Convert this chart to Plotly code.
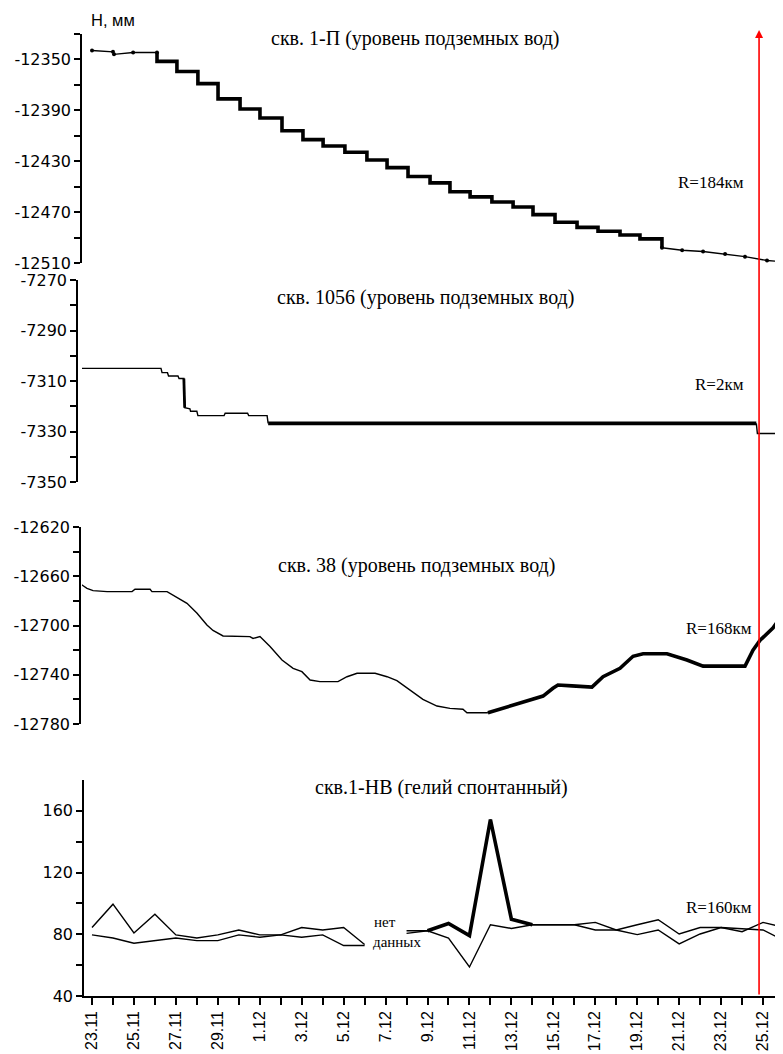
import plotly.graph_objects as go

# ---------------- data ----------------
# x in days since 23.11
tick_days = list(range(0, 34))
tick_labels = ["23.11", "", "25.11", "", "27.11", "", "29.11", "", "1.12", "", "3.12", "", "5.12", "",
               "7.12", "", "9.12", "", "11.12", "", "13.12", "", "15.12", "", "17.12", "", "19.12", "",
               "21.12", "", "23.12", "", "25.12", ""]

# Panel 1: скв. 1-П
p1_start_days = [0, 1, 1.05, 1.96, 3.1]
p1_start_vals = [-12343, -12344, -12346, -12344.5, -12344.5]
p1_step_days = [3.1, 3.1, 4.05, 5.05, 6.01, 7.06, 8.01, 9.06, 10.06, 11.02, 12.06, 13.11, 14.07, 15.07,
                16.12, 17.07, 18.03, 19.07, 20.08, 21.03, 22.08, 23.13, 24.13, 25.18, 26.13, 27.18]
p1_step_vals = [-12344.5, -12351.5, -12359.5, -12369, -12381, -12389, -12396, -12406, -12413, -12418,
                -12423, -12429, -12435, -12442, -12447, -12454, -12458, -12462, -12466, -12472,
                -12478, -12482, -12485, -12488, -12491, -12498]
p1_end_days = [27.18, 28.14, 29.14, 30.19, 31.14, 32.19, 32.95]
p1_end_vals = [-12498, -12500, -12501, -12503, -12505, -12508, -12509]

# Panel 2: скв. 1056
p2_days = [-0.7, 3.29, 3.34, 3.6, 3.65, 4.1, 4.15, 4.38, 4.42, 4.67, 4.7, 5.0, 5.05, 6.3, 6.35,
           7.42, 7.47, 8.35, 8.4]
p2_vals = [-7305, -7305, -7306.7, -7306.7, -7308, -7308, -7309, -7309, -7320.6, -7321, -7322, -7322,
           -7323.7, -7323.7, -7322.8, -7322.8, -7323.7, -7323.7, -7326.8]
p2_drop_days = [4.38, 4.42]
p2_drop_vals = [-7309, -7320.6]
p2_thick_days = [8.4, 31.68]
p2_thick_vals = [-7326.8, -7326.8]
p2_end_days = [31.68, 31.73, 32.77, 32.9, 32.95]
p2_end_vals = [-7326.8, -7330.8, -7330.8, -7336.6, -7338]

# Panel 3: скв. 38
p3_days = [-0.55, -0.24, 0.05, 0.72, 1.91, 2.05, 2.77, 2.86, 3.58, 4.05, 4.53, 5.01, 5.48, 5.77, 6.25,
           7.53, 7.68, 8.01, 8.49, 9.06, 9.59, 10.01, 10.4, 10.87, 11.73, 12.16, 12.64, 13.5, 14.07,
           14.54, 15.16, 15.78, 16.45, 17.07, 17.69, 17.88, 18.88]
p3_vals = [-12666.3, -12669.8, -12671.7, -12672.5, -12672.5, -12670.6, -12670.6, -12672.5, -12672.5,
           -12677, -12682, -12690, -12699.6, -12704, -12708.5, -12709, -12710.5, -12709, -12717,
           -12728, -12734.8, -12737.5, -12744.3, -12745.6, -12745.6, -12741.6, -12738.8, -12738.8,
           -12741.6, -12744.8, -12752.4, -12760, -12765.4, -12767.3, -12768, -12770.9, -12770.9]
p3_thick_days = [18.88, 19.6, 20.27, 21.03, 21.51, 21.98, 22.22, 22.89, 23.84, 24.37, 25.18, 25.8,
                 26.28, 27.42, 28.37, 29.14, 31.14, 31.52, 31.86, 32.47, 32.95]
p3_thick_vals = [-12770.9, -12767.3, -12763.8, -12760, -12757.3, -12751, -12748.3, -12749, -12750,
                 -12741.6, -12734.8, -12725, -12723, -12723, -12728, -12733, -12733, -12720, -12712,
                 -12702, -12691]

# Panel 4: скв.1-НВ (гелий)
he_days_1 = list(range(0, 14))
he_a_1 = [84.4, 99.5, 80.9, 93.0, 79.6, 77.6, 79.6, 82.8, 79.6, 79.6, 84.4, 82.8, 84.4, 73.4]
he_b_1 = [79.6, 77.6, 74.2, 75.9, 77.6, 75.9, 75.9, 79.6, 78.1, 79.6, 78.1, 79.6, 72.7, 72.7]
he_days_2 = list(range(15, 34))
he_a_2 = [82.3, 82.3, 87.0, 79.1, 154.4, 89.8, 86.2, 86.2, 86.2, 87.7, 82.8, 79.8, 82.8, 73.8, 80.2,
          84.4, 83.4, 82.8, 76.0]
he_b_2 = [80.6, 82.3, 77.6, 58.8, 86.2, 83.8, 86.2, 86.2, 86.2, 82.8, 82.8, 86.2, 89.4, 80.2, 84.4,
          84.4, 81.7, 87.7, 84.4]
he_thick_days = [16, 17, 18, 19, 20, 21]
he_thick_vals = [82.3, 87.0, 79.1, 154.4, 89.8, 86.2]

event_day = 31.81

# ---------------- figure ----------------
OFF = 8            # page body margin in the browser
W, H = 783 - OFF, 1054 - OFF
AXIS_Y = 996       # reference pixel row of bottom x axis
MB = 1054 - AXIS_Y
PH = H - MB        # plot-area height in figure px


def px_x(ref_x):
    return (ref_x - OFF) / W


def py(ref_y):
    return (AXIS_Y - ref_y) / PH


THIN = 1.4
THICK = 3.6
fig = go.Figure()


def add(x, y, ax, w, shape="linear", markers=False):
    fig.add_trace(go.Scatter(
        x=x, y=y, xaxis="x", yaxis=ax, mode="lines+markers" if markers else "lines",
        line=dict(color="black", width=w, shape=shape),
        marker=dict(size=4, color="black"), showlegend=False, hoverinfo="skip", cliponaxis=True))


add(p1_start_days, p1_start_vals, "y", THIN, markers=True)
add(p1_step_days, p1_step_vals, "y", THICK, shape="hv")
add(p1_end_days, p1_end_vals, "y", THIN, markers=True)

add(p2_days, p2_vals, "y2", THIN)
add(p2_drop_days, p2_drop_vals, "y2", 2.8)
add(p2_thick_days, p2_thick_vals, "y2", THICK)
add(p2_end_days, p2_end_vals, "y2", THIN)

add(p3_days, p3_vals, "y3", THIN)
add(p3_thick_days, p3_thick_vals, "y3", THICK)

add(he_days_1, he_a_1, "y4", THIN)
add(he_days_1, he_b_1, "y4", THIN)
add(he_days_2, he_a_2, "y4", THIN)
add(he_days_2, he_b_2, "y4", THIN)
add(he_thick_days, he_thick_vals, "y4", THICK)

sans = "Liberation Sans, Arial, sans-serif"
wide_sans = "DejaVu Sans, Liberation Sans, sans-serif"
serif = "Liberation Serif, Times New Roman, serif"


def yax(lo, hi, step, lab_step, top_px, bot_px, x_px, top_tick=True):
    vals = []
    v = lo
    while v <= hi + 1e-9:
        vals.append(v)
        v += step
    if not top_tick:
        vals = vals[:-1]
    text = [str(int(t)) if (t - lo) % lab_step == 0 else "" for t in vals]
    return dict(range=[lo, hi], domain=[py(bot_px), py(top_px)], anchor="free", position=px_x(x_px),
                tickmode="array", tickvals=vals, ticktext=text, ticks="outside", ticklen=6,
                tickwidth=1.5, tickcolor="black", showline=True, linecolor="black", linewidth=1.5,
                showgrid=False, zeroline=False, tickfont=dict(family=wide_sans, size=16, color="black"),
                automargin=False)


x0 = 82
fig.update_layout(
    width=W, height=H, margin=dict(l=0, r=0, t=0, b=MB),
    paper_bgcolor="white", plot_bgcolor="white",
    xaxis=dict(domain=[px_x(x0), 1], range=[(x0 - 92) / 20.97, (783 - 92) / 20.97],
               anchor="y4", tickmode="array", tickvals=tick_days, ticktext=tick_labels,
               tickangle=-90, ticks="outside", ticklen=7, tickwidth=1.5, tickcolor="black",
               showline=True, linecolor="black", linewidth=1.5, showgrid=False, zeroline=False,
               tickfont=dict(family=sans, size=16, color="black"), automargin=False),
    yaxis=yax(-12510, -12330, 20, 40, 34, 263, 81),
    yaxis2=yax(-7350, -7270, 10, 20, 280, 482, 77),
    yaxis3=yax(-12780, -12620, 20, 40, 527, 724, 80),
    yaxis4=yax(40, 180, 20, 40, 780, 996, 83, top_tick=False),
)

ann = []


def txt(s, xpx, ypx, font, size, xanchor="center"):
    ann.append(dict(text=s, x=px_x(xpx), y=py(ypx), xref="paper", yref="paper", showarrow=False,
                    xanchor=xanchor, yanchor="middle", font=dict(family=font, size=size, color="black")))


txt("Н, мм", 89, 20, sans, 16.5, "left")
txt("скв. 1-П (уровень подземных вод)", 415, 38, serif, 20)
txt("скв. 1056 (уровень подземных вод)", 426, 297, serif, 20)
txt("скв. 38 (уровень подземных вод)", 416, 565, serif, 20)
txt("скв.1-НВ (гелий спонтанный)", 441, 787, serif, 20)
txt("R=184км", 746, 183, serif, 17, "right")
txt("R=2км", 746, 384, serif, 17, "right")
txt("R=168км", 754, 628, serif, 17, "right")
txt("R=160км", 754, 907, serif, 17, "right")
txt("нет", 372, 922, serif, 15, "left")
txt("данных", 371, 942, serif, 15, "left")

# red event line with arrow
ann.append(dict(text="", x=event_day, y=py(30), xref="x", yref="paper", showarrow=True,
                ax=0, ay=AXIS_Y - 30, axref="pixel", ayref="pixel", arrowhead=2, arrowsize=1,
                arrowwidth=1.6, arrowcolor="red", standoff=0, startstandoff=0))
fig.update_layout(annotations=ann)

fig.write_html("out.html")
